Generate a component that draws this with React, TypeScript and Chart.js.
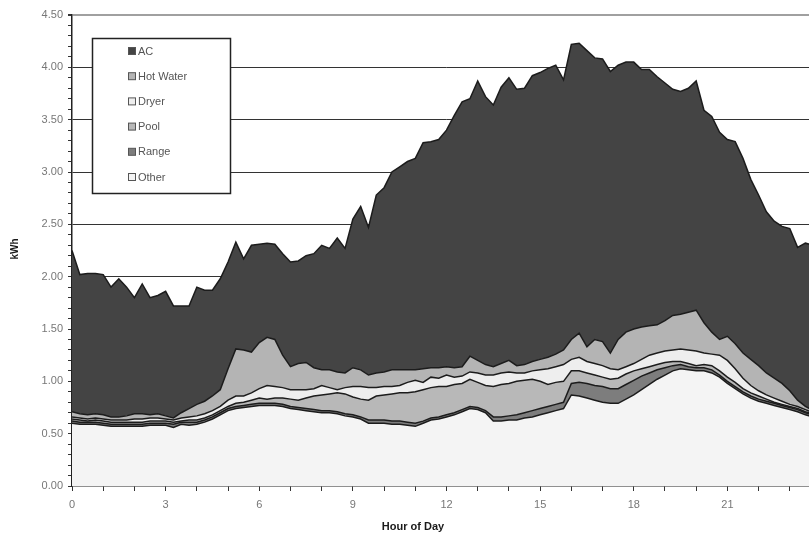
import React, { useEffect, useRef } from "react";
import { Chart, registerables } from "chart.js";

Chart.register(...registerables);

// Quarter-hour time stamps (hours)
const hours = [
  0, 0.25, 0.5, 0.75, 1, 1.25, 1.5, 1.75, 2, 2.25, 2.5, 2.75,
  3, 3.25, 3.5, 3.75, 4, 4.25, 4.5, 4.75, 5, 5.25, 5.5, 5.75,
  6, 6.25, 6.5, 6.75, 7, 7.25, 7.5, 7.75, 8, 8.25, 8.5, 8.75,
  9, 9.25, 9.5, 9.75, 10, 10.25, 10.5, 10.75, 11, 11.25, 11.5, 11.75,
  12, 12.25, 12.5, 12.75, 13, 13.25, 13.5, 13.75, 14, 14.25, 14.5, 14.75,
  15, 15.25, 15.5, 15.75, 16, 16.25, 16.5, 16.75, 17, 17.25, 17.5, 17.75,
  18, 18.25, 18.5, 18.75, 19, 19.25, 19.5, 19.75, 20, 20.25, 20.5, 20.75,
  21, 21.25, 21.5, 21.75, 22, 22.25, 22.5, 22.75, 23, 23.25, 23.5, 23.75,
];

// Average load by end use, kWh per interval
const other = [
  0.60, 0.59, 0.59, 0.59, 0.58, 0.57, 0.57, 0.57, 0.57, 0.57, 0.58, 0.58,
  0.58, 0.56, 0.59, 0.58, 0.59, 0.61, 0.64, 0.68, 0.72, 0.74, 0.75, 0.76,
  0.77, 0.77, 0.77, 0.76, 0.74, 0.73, 0.72, 0.71, 0.70, 0.70, 0.69, 0.67,
  0.66, 0.64, 0.60, 0.60, 0.60, 0.59, 0.59, 0.58, 0.57, 0.60, 0.63, 0.64,
  0.66, 0.68, 0.71, 0.74, 0.73, 0.70, 0.62, 0.62, 0.63, 0.63, 0.65, 0.66,
  0.68, 0.70, 0.72, 0.74, 0.87, 0.86, 0.84, 0.82, 0.80, 0.79, 0.79, 0.83,
  0.87, 0.92, 0.97, 1.02, 1.06, 1.10, 1.12, 1.11, 1.10, 1.10, 1.08, 1.04,
  0.98, 0.93, 0.88, 0.84, 0.81, 0.79, 0.77, 0.75, 0.73, 0.71, 0.68, 0.66,
];

const range = [
  0.02, 0.02, 0.02, 0.02, 0.02, 0.02, 0.02, 0.02, 0.02, 0.02, 0.02, 0.02,
  0.02, 0.03, 0.02, 0.03, 0.02, 0.02, 0.02, 0.02, 0.02, 0.02, 0.02, 0.02,
  0.02, 0.02, 0.02, 0.02, 0.02, 0.02, 0.02, 0.02, 0.02, 0.02, 0.02, 0.02,
  0.02, 0.02, 0.03, 0.03, 0.03, 0.03, 0.03, 0.03, 0.03, 0.02, 0.02, 0.02,
  0.02, 0.02, 0.02, 0.02, 0.02, 0.02, 0.04, 0.04, 0.04, 0.05, 0.05, 0.06,
  0.06, 0.06, 0.06, 0.06, 0.11, 0.13, 0.14, 0.14, 0.15, 0.14, 0.14, 0.14,
  0.14, 0.13, 0.11, 0.09, 0.07, 0.05, 0.04, 0.03, 0.03, 0.03, 0.03, 0.02,
  0.02, 0.02, 0.02, 0.02, 0.02, 0.02, 0.02, 0.02, 0.02, 0.02, 0.02, 0.02,
];

const pool = [
  0.02, 0.02, 0.01, 0.02, 0.02, 0.02, 0.02, 0.02, 0.02, 0.02, 0.02, 0.02,
  0.02, 0.02, 0.01, 0.02, 0.02, 0.02, 0.02, 0.02, 0.02, 0.03, 0.03, 0.04,
  0.05, 0.04, 0.05, 0.06, 0.07, 0.07, 0.10, 0.13, 0.15, 0.16, 0.18, 0.19,
  0.17, 0.17, 0.19, 0.23, 0.24, 0.26, 0.27, 0.28, 0.30, 0.30, 0.29, 0.29,
  0.27, 0.27, 0.25, 0.26, 0.24, 0.24, 0.29, 0.31, 0.31, 0.32, 0.31, 0.30,
  0.26, 0.21, 0.21, 0.20, 0.12, 0.11, 0.10, 0.10, 0.09, 0.09, 0.10, 0.10,
  0.09, 0.07, 0.06, 0.05, 0.05, 0.04, 0.03, 0.03, 0.02, 0.03, 0.04, 0.04,
  0.04, 0.04, 0.03, 0.03, 0.03, 0.02, 0.01, 0.01, 0.01, 0.01, 0.01, 0.01,
];

const dryer = [
  0.02, 0.02, 0.02, 0.02, 0.02, 0.02, 0.02, 0.02, 0.03, 0.03, 0.03, 0.03,
  0.02, 0.02, 0.03, 0.03, 0.04, 0.04, 0.04, 0.04, 0.06, 0.07, 0.06, 0.07,
  0.09, 0.13, 0.11, 0.10, 0.09, 0.10, 0.08, 0.07, 0.09, 0.06, 0.03, 0.06,
  0.10, 0.12, 0.12, 0.08, 0.08, 0.07, 0.07, 0.10, 0.11, 0.07, 0.10, 0.08,
  0.11, 0.07, 0.07, 0.07, 0.09, 0.10, 0.11, 0.11, 0.11, 0.08, 0.07, 0.08,
  0.11, 0.15, 0.15, 0.16, 0.11, 0.13, 0.11, 0.11, 0.11, 0.10, 0.08, 0.07,
  0.07, 0.09, 0.11, 0.11, 0.11, 0.11, 0.12, 0.13, 0.14, 0.11, 0.11, 0.15,
  0.16, 0.13, 0.10, 0.07, 0.05, 0.04, 0.04, 0.03, 0.02, 0.02, 0.02, 0.01,
];

const hotWater = [
  0.05, 0.04, 0.04, 0.04, 0.04, 0.03, 0.03, 0.04, 0.05, 0.05, 0.03, 0.04,
  0.03, 0.02, 0.05, 0.08, 0.11, 0.12, 0.14, 0.16, 0.30, 0.45, 0.44, 0.39,
  0.44, 0.46, 0.45, 0.31, 0.22, 0.25, 0.26, 0.20, 0.15, 0.17, 0.17, 0.14,
  0.18, 0.16, 0.12, 0.14, 0.14, 0.16, 0.15, 0.12, 0.10, 0.13, 0.09, 0.10,
  0.08, 0.09, 0.09, 0.15, 0.12, 0.10, 0.08, 0.09, 0.11, 0.07, 0.08, 0.09,
  0.10, 0.11, 0.12, 0.14, 0.19, 0.23, 0.14, 0.23, 0.23, 0.15, 0.29, 0.33,
  0.33, 0.31, 0.28, 0.27, 0.29, 0.33, 0.33, 0.36, 0.39, 0.29, 0.21, 0.15,
  0.23, 0.24, 0.24, 0.25, 0.24, 0.21, 0.19, 0.17, 0.13, 0.06, 0.03, 0.02,
];

const ac = [
  1.54, 1.33, 1.35, 1.34, 1.34, 1.24, 1.32, 1.23, 1.11, 1.24, 1.12, 1.13,
  1.19, 1.07, 1.02, 0.98, 1.12, 1.06, 1.01, 1.06, 1.02, 1.02, 0.87, 1.02,
  0.94, 0.90, 0.91, 0.97, 1.00, 0.98, 1.02, 1.09, 1.19, 1.16, 1.28, 1.19,
  1.42, 1.56, 1.41, 1.70, 1.76, 1.89, 1.94, 1.99, 2.02, 2.16, 2.16, 2.18,
  2.26, 2.41, 2.53, 2.46, 2.67, 2.56, 2.50, 2.64, 2.70, 2.64, 2.64, 2.73,
  2.74, 2.76, 2.76, 2.58, 2.82, 2.77, 2.83, 2.69, 2.70, 2.69, 2.62, 2.58,
  2.55, 2.46, 2.45, 2.37, 2.27, 2.16, 2.13, 2.14, 2.19, 2.03, 2.06, 1.98,
  1.88, 1.93, 1.86, 1.72, 1.63, 1.54, 1.50, 1.50, 1.55, 1.46, 1.56, 1.58,
];

// Stacking order, bottom to top
const seriesNames = ["Other", "Range", "Pool", "Dryer", "Hot Water", "AC"];
const seriesValues = [other, range, pool, dryer, hotWater, ac];
const seriesFills = ["#f4f4f4", "#7d7d7d", "#b8b8b8", "#eeeeee", "#b4b4b4", "#444444"];

const FONT = "'Liberation Sans', Arial, Helvetica, sans-serif";

const isHalfStep = (v: number) => Math.abs(v * 2 - Math.round(v * 2)) < 1e-6;

// Axis titles and the boxed legend in the upper-left of the plot
const overlayPlugin = {
  id: "overlay",
  afterDraw(chart: any) {
    const ctx: CanvasRenderingContext2D = chart.ctx;
    ctx.save();
    ctx.fillStyle = "#1a1a1a";
    ctx.font = `bold 11px ${FONT}`;
    ctx.textAlign = "center";
    ctx.textBaseline = "middle";
    ctx.fillText("Hour of Day", 413, 527);
    ctx.save();
    ctx.translate(15, 249);
    ctx.rotate(-Math.PI / 2);
    ctx.font = `bold 10px ${FONT}`;
    ctx.fillText("kWh", 0, 0);
    ctx.restore();

    // legend box
    const bx = 92.5, by = 38.5, bw = 138, bh = 155;
    ctx.fillStyle = "#ffffff";
    ctx.fillRect(bx, by, bw, bh);
    ctx.strokeStyle = "#222";
    ctx.lineWidth = 1.5;
    ctx.strokeRect(bx, by, bw, bh);

    const ds = chart.data.datasets.slice().reverse();
    ctx.font = `11px ${FONT}`;
    ctx.textAlign = "left";
    ds.forEach((d: any, k: number) => {
      const cy = 51 + k * 25.2;
      ctx.fillStyle = d.backgroundColor;
      ctx.fillRect(128.5, cy - 3.5, 7, 7);
      ctx.strokeStyle = "#555";
      ctx.lineWidth = 1;
      ctx.strokeRect(128.5, cy - 3.5, 7, 7);
      ctx.fillStyle = "#555";
      ctx.fillText(d.label, 138, cy + 0.5);
    });
    ctx.restore();
  },
};

export default function App() {
  const canvasRef = useRef<HTMLCanvasElement | null>(null);

  useEffect(() => {
    const canvas = canvasRef.current;
    if (!canvas) return;

    const datasets = seriesValues.map((vals, k) => ({
      label: seriesNames[k],
      data: vals.map((v, i) => ({ x: hours[i], y: v })),
      backgroundColor: seriesFills[k],
      borderColor: "#1c1c1c",
      borderWidth: 1.5,
      pointRadius: 0,
      tension: 0,
      fill: k === 0 ? "origin" : "-1",
    }));

    const chart = new Chart(canvas, {
      type: "line",
      data: { datasets },
      options: {
        animation: false,
        responsive: false,
        maintainAspectRatio: false,
        layout: { padding: { left: 0, right: 9, top: 15, bottom: 0 } },
        plugins: {
          legend: { display: false },
          tooltip: { enabled: false },
        },
        scales: {
          x: {
            type: "linear",
            min: 0,
            max: 24,
            ticks: {
              stepSize: 1,
              autoSkip: false,
              maxRotation: 0,
              padding: 7,
              color: "#777",
              font: { size: 11, family: FONT },
              callback: (v: any) => (v % 3 === 0 && v < 24 ? String(v) : ""),
            },
            grid: {
              drawOnChartArea: false,
              tickLength: 5,
              tickColor: "#333",
              color: "#333",
            },
            border: { color: "#222", width: 1.5 },
            afterFit: (s: any) => {
              s.height = 51;
            },
          },
          y: {
            stacked: true,
            min: 0,
            max: 4.5,
            ticks: {
              stepSize: 0.1,
              autoSkip: false,
              padding: 5,
              color: "#777",
              font: { size: 11, family: FONT },
              callback: (v: any) => (isHalfStep(v) ? Number(v).toFixed(2) : ""),
            },
            grid: {
              color: (c: any) => {
                const v = c.tick ? c.tick.value : 0;
                if (!isHalfStep(v) || v < 0.01) return "rgba(0,0,0,0)";
                return v > 4.49 ? "#a0a0a0" : "#333";
              },
              lineWidth: (c: any) => {
                const v = c.tick ? c.tick.value : 0;
                return v > 4.49 ? 2 : 1;
              },
              tickLength: 4,
              tickColor: "#333",
            },
            border: { color: "#222", width: 1.5 },
            afterFit: (s: any) => {
              s.width = 72;
            },
          },
        },
      },
      plugins: [overlayPlugin],
    });

    return () => chart.destroy();
  }, []);

  return (
    <div
      style={{
        position: "fixed",
        left: 0,
        top: 0,
        width: 809,
        height: 537,
        overflow: "hidden",
        background: "#fff",
      }}
    >
      <canvas ref={canvasRef} width={830} height={537} style={{ width: 830, height: 537 }} />
    </div>
  );
}
